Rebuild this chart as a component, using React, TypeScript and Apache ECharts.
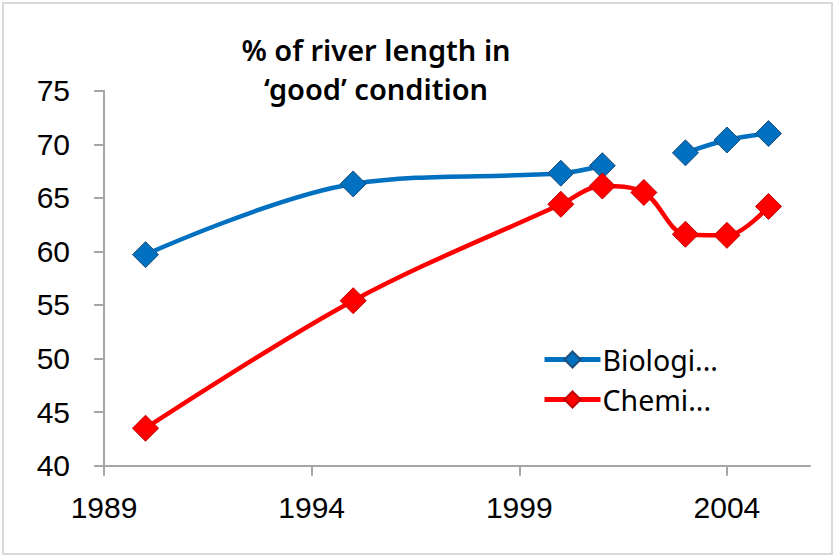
import React, { useEffect, useRef } from "react";
import * as echarts from "echarts";

const years = [1990, 1995, 2000, 2001, 2002, 2003, 2004, 2005];
const biological: (number | null)[] = [59.7, 66.3, 67.3, 68.0, null, 69.2, 70.4, 71.0];
const chemical: (number | null)[] = [43.5, 55.4, 64.4, 66.1, 65.5, 61.6, 61.5, 64.2];
const xTicks = [1989, 1994, 1999, 2004];
const yTicks = [40, 45, 50, 55, 60, 65, 70, 75];
const seriesNames = ["Biologi...", "Chemi..."];
const titleText = "% of river length in\n\u2018good\u2019 condition";

const toPairs = (vals: (number | null)[]) =>
  years.map((y, i) => [y, vals[i] === null ? "-" : vals[i]]);

export default function App() {
  const ref = useRef<HTMLDivElement>(null);
  useEffect(() => {
    if (!ref.current) return;
    const chart = echarts.init(ref.current, null, { renderer: "svg" });
    const axisColor = "#a6a6a6";
    const labelFont = { fontFamily: "Liberation Sans", fontSize: 30, color: "#000" };
    chart.setOption({
      animation: false,
      backgroundColor: "#fff",
      title: {
        text: titleText,
        left: 376,
        top: 30,
        padding: 0,
        textAlign: "center",
        textStyle: {
          fontFamily: "Noto Sans",
          fontWeight: 600,
          fontSize: 29,
          lineHeight: 39,
          color: "#000",
        },
      },
      legend: {
        left: 542,
        top: 345,
        padding: 0,
        orient: "vertical",
        itemWidth: 56,
        itemHeight: 20,
        itemGap: 11,
        data: seriesNames.map((n) => ({ name: n, lineStyle: { width: 5 } })),
        lineStyle: { width: 5 },
        textStyle: { fontFamily: "Noto Sans", fontSize: 28.5, lineHeight: 28, color: "#000", padding: [0, 0, 0, -3] },
      },
      grid: { left: 104, right: 25, top: 90.7, bottom: 91.3, containLabel: false },
      xAxis: {
        type: "value",
        min: 1989,
        max: 2006,
        splitLine: { show: false },
        axisLine: { lineStyle: { color: axisColor, width: 2 } },
        axisTick: { show: true, length: 10, lineStyle: { color: axisColor, width: 2 }, customValues: xTicks },
        axisLabel: { ...labelFont, margin: 27, customValues: xTicks, formatter: (v: number) => String(v) },
      },
      yAxis: {
        type: "value",
        min: 40,
        max: 75,
        interval: 5,
        splitLine: { show: false },
        axisLine: { show: true, lineStyle: { color: axisColor, width: 2 } },
        axisTick: { show: true, length: 10, lineStyle: { color: axisColor, width: 2 }, customValues: yTicks },
        axisLabel: { ...labelFont, margin: 34, customValues: yTicks },
      },
      series: [
        {
          name: seriesNames[0],
          type: "line",
          smooth: 0.35,
          connectNulls: false,
          data: toPairs(biological),
          symbol: "diamond",
          symbolSize: 26,
          lineStyle: { color: "#0070C0", width: 4.5 },
          itemStyle: { color: "#0070C0", borderColor: "#1f4e79", borderWidth: 1 },
          z: 3,
        },
        {
          name: seriesNames[1],
          type: "line",
          smooth: 0.35,
          data: toPairs(chemical),
          symbol: "diamond",
          symbolSize: 26,
          lineStyle: { color: "#FF0000", width: 4.5 },
          itemStyle: { color: "#FF0000", borderColor: "#C00000", borderWidth: 1 },
          z: 4,
        },
      ],
      graphic: [
        {
          type: "rect",
          shape: { x: 3, y: 3, width: 829, height: 551 },
          style: { fill: "none", stroke: "#d9d9d9", lineWidth: 2 },
          silent: true,
        },
      ],
    });
    return () => chart.dispose();
  }, []);
  return (
    <div
      ref={ref}
      style={{ position: "fixed", left: 0, top: 0, width: 835, height: 557 }}
    />
  );
}
